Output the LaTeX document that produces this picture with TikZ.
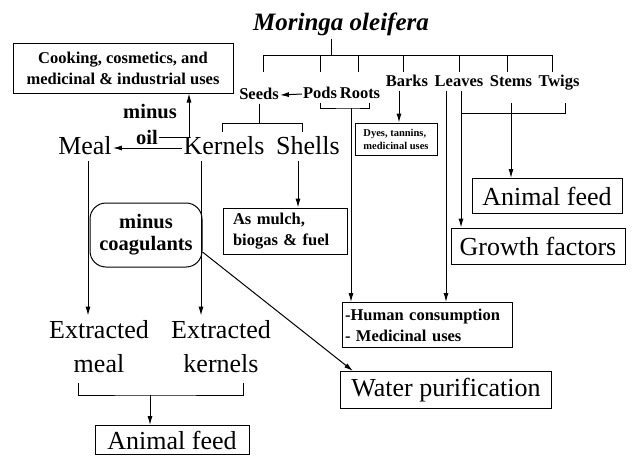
\documentclass[tikz,border=0pt]{standalone}
\usepackage{fontspec}
\setmainfont{Liberation Serif}
\usepackage{tikz}
\usetikzlibrary{arrows.meta,calc}
\tikzset{
  part/.style={font=\fontsize{16.5}{18}\selectfont\bfseries, inner sep=1pt,
               text height=11.5pt, text depth=3.5pt},
  big/.style={font=\fontsize{26}{34}\selectfont, inner sep=1pt, align=center},
  word/.style={big, text height=18pt, text depth=5.5pt},
  usebox/.style={draw, line width=1pt, font=\fontsize{16.5}{21}\selectfont\bfseries,
                 align=center, inner sep=2pt},
  bigbox/.style={draw, line width=1pt, font=\fontsize{26}{28}\selectfont, inner sep=1pt},
  coagbox/.style={draw, line width=1pt, rounded corners=16pt, align=center,
                  font=\fontsize{20.5}{22}\selectfont\bfseries,
                  minimum width=112pt, minimum height=64pt},
  minustxt/.style={font=\fontsize{20.5}{22}\selectfont\bfseries, inner sep=1pt},
  ln/.style={line width=1pt},
  ar/.style={ln, -{Latex[length=9pt,width=5pt]}},
}

\begin{document}
\begin{tikzpicture}[x={(1pt,0)}, y={(0,-1pt)}]
\useasboundingbox (0,0) rectangle (634,455);

% --- the tree ---
\node[font=\fontsize{25}{28}\selectfont\bfseries\itshape] (title) at (341,24) {Moringa oleifera};
\node[part] (seeds)  at (259,95) {Seeds};
\node[part] (pods)   at (320,94) {Pods};
\node[part] (roots)  at (360,94) {Roots};
\node[part] (barks)  at (407,82) {Barks};
\node[part] (leaves) at (459,82) {Leaves};
\node[part] (stems)  at (511,82) {Stems};
\node[part] (twigs)  at (559,82) {Twigs};

\coordinate (tstem) at (331,55);
\draw[ln] (title.south -| tstem) -- (tstem);
\foreach \x [count=\i] in {263,320,358,403,459,507,552}
  \coordinate (drop\i) at (\x,55);
\draw[ln] (drop1) -- (drop7);
\foreach \i in {1,...,7} \draw[ln] (drop\i) -- ++(0,17);
\draw[ar] (pods.west) -- (seeds.east);

% --- seeds ---
\node[usebox, minimum width=220pt, minimum height=50pt] (cook) at (123,68)
  {Cooking, cosmetics, and\\medicinal \& industrial uses};
\node[minustxt] (minus) at (150,112) {minus};
\node[minustxt] (oil)   at (147,137) {oil};
\node[word] (meal)    at (85,148)  {Meal};
\node[word] (kernels) at (224,148) {Kernels};
\node[word] (shells)  at (308,148) {Shells};

\coordinate (sj)  at (262,123);
\coordinate (sjl) at (222,132);
\coordinate (sjr) at (302,132);
\draw[ln] (seeds.south) -- (seeds.south |- sj);
\draw[ln] (sjl) -- ++(0,-9) -| (sjr);
\draw[ar] (oil.east) -| ([xshift=66pt]cook.south);
\draw[ar] (kernels.west) -- (meal.east);

\node[coagbox] (coag) at (146,235) {minus\\coagulants};
\node[usebox, align=left, text width=104pt, inner xsep=10pt, minimum height=46pt] (mulch) at (285,231)
  {As mulch,\\biogas \& fuel};
\node[big] (exmeal) at (99,347)  {Extracted\\meal};
\node[big] (exkern) at (221,347) {Extracted\\kernels};
\node[bigbox, minimum width=154pt, minimum height=29pt, inner ysep=0pt] (feed) at (172,440) {Animal feed};

\draw[ar, shorten >=4pt] ([xshift=3pt]meal.south) -- ([xshift=3pt]meal.south |- exmeal.north);
\draw[ar, shorten >=4pt] ([xshift=-23pt]kernels.south) -- ([xshift=-23pt]kernels.south |- exkern.north);
\draw[ar] ([xshift=-10pt]shells.south) -- ([xshift=-10pt]shells.south |- mulch.north);

\coordinate (bl) at (78,383);
\coordinate (br) at (243,383);
\coordinate (bj) at (150,395);
\draw[ln] (bl) |- (bj) -| (br);
\draw[ar] (bj) -- (bj |- feed.north);

% --- pods, roots, barks ---
\node[draw, line width=1pt, font=\fontsize{10.5}{13}\selectfont\bfseries, align=left,
      inner sep=2pt, minimum width=82pt, minimum height=32pt] (dyes) at (396,139)
  {Dyes, tannins,\\medicinal uses};
\node[usebox, align=left, text width=164pt, inner xsep=3pt, minimum height=45pt] (hum) at (427,325)
  {-Human consumption\\- Medicinal uses};
\node[bigbox, minimum width=211pt, minimum height=37pt] (water) at (446,390) {Water purification};

\coordinate (prj) at (351,108);
\draw[ln] (pods.south) |- (prj) -| ([xshift=9pt]roots.south);
\draw[ar] (prj) -- (prj |- hum.north);
\draw[ar] ([xshift=-8pt]barks.south) -- ([xshift=-8pt]barks.south |- dyes.north);
\draw[ar] ([yshift=-17pt]coag.east) -- ([xshift=13pt]water.north west);

% --- leaves, stems, twigs ---
\node[bigbox, minimum width=150pt, minimum height=35pt] (anim) at (547,196) {Animal feed};
\node[bigbox, minimum width=174pt, minimum height=36pt] (growth) at (538,246) {Growth factors};

\coordinate (stj) at (512,113);
\coordinate (twt) at (565,103);
\draw[ar] ([xshift=-13pt]leaves.south) -- ([xshift=-13pt]leaves.south |- hum.north);
\draw[ar] ([xshift=2pt]leaves.south) -- ([xshift=2pt]leaves.south |- growth.north);
\draw[ln] ([xshift=2pt]leaves.south |- stj) -| (twt);
\draw[ar] (stems.south |- twt) -- (stems.south |- anim.north);

\end{tikzpicture}
\end{document}
